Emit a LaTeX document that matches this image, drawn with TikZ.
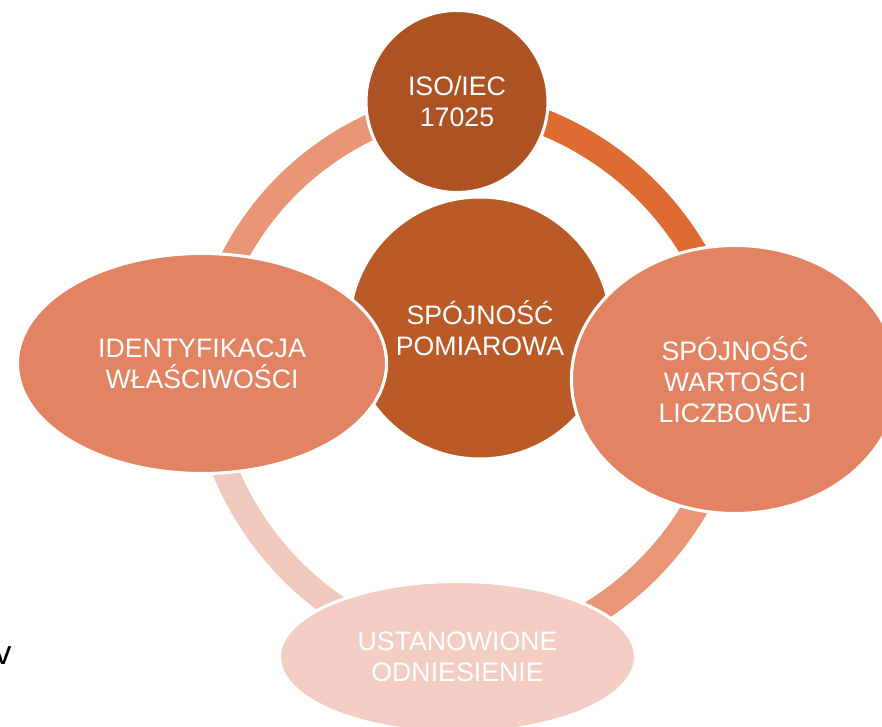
\documentclass[tikz,border=0pt]{standalone}
\usepackage{fontspec}
\setmainfont{Liberation Sans}
\usetikzlibrary{shapes.geometric,backgrounds}
\definecolor{topc}{RGB}{173,82,35}
\definecolor{midc}{RGB}{185,90,39}
\definecolor{sidec}{RGB}{226,132,99}
\definecolor{botc}{RGB}{244,206,196}
\definecolor{arcTR}{RGB}{222,108,50}
\definecolor{arcTL}{RGB}{233,150,118}
\definecolor{arcBR}{RGB}{233,151,119}
\definecolor{arcBL}{RGB}{242,201,189}
\begin{document}
\begin{tikzpicture}[x=0.025cm,y=0.025cm,
  blob/.style={draw=white, line width=2.2pt, text=white, align=center, inner sep=0pt,
    font=\fontsize{19}{22}\selectfont},
  ring/.style={line width=18.5pt, looseness=0.96}]
\useasboundingbox (0,0) rectangle (882,727);
\node[blob, circle, fill=midc, minimum size=6.55cm] (mid) at (480,399) {SPÓJNOŚĆ\\POMIAROWA};
\node[blob, circle, fill=topc, minimum size=4.55cm] (top) at (457,625.5) {ISO/IEC\\17025};
\node[blob, ellipse, fill=sidec, minimum width=9.225cm, minimum height=5.5cm] (left) at (202,363.5) {IDENTYFIKACJA\\WŁAŚCIWOŚCI};
\node[blob, ellipse, fill=sidec, minimum width=8.175cm, minimum height=6.7cm] (right) at (735,347.5) {SPÓJNOŚĆ\\WARTOŚCI\\LICZBOWEJ};
\node[blob, ellipse, fill=botc, minimum width=8.9cm, minimum height=3.775cm] (bottom) at (457.5,70) {USTANOWIONE\\ODNIESIENIE};
\node[anchor=base, inner sep=0pt, font=\fontsize{24}{28}\selectfont] (v) at (3,62) {v};
\begin{scope}[on background layer]
\fill[white] (0,0) rectangle (882,727);
\draw[ring, arcTL] (left.center) to[bend left=38] (top.center);
\draw[ring, arcTR] (top.center) to[bend left=40] (right.center);
\draw[ring, arcBR] (right.center) to[bend left=41] (bottom.center);
\draw[ring, arcBL] (bottom.center) to[bend left=39] (left.center);
\end{scope}
\end{tikzpicture}
\end{document}
